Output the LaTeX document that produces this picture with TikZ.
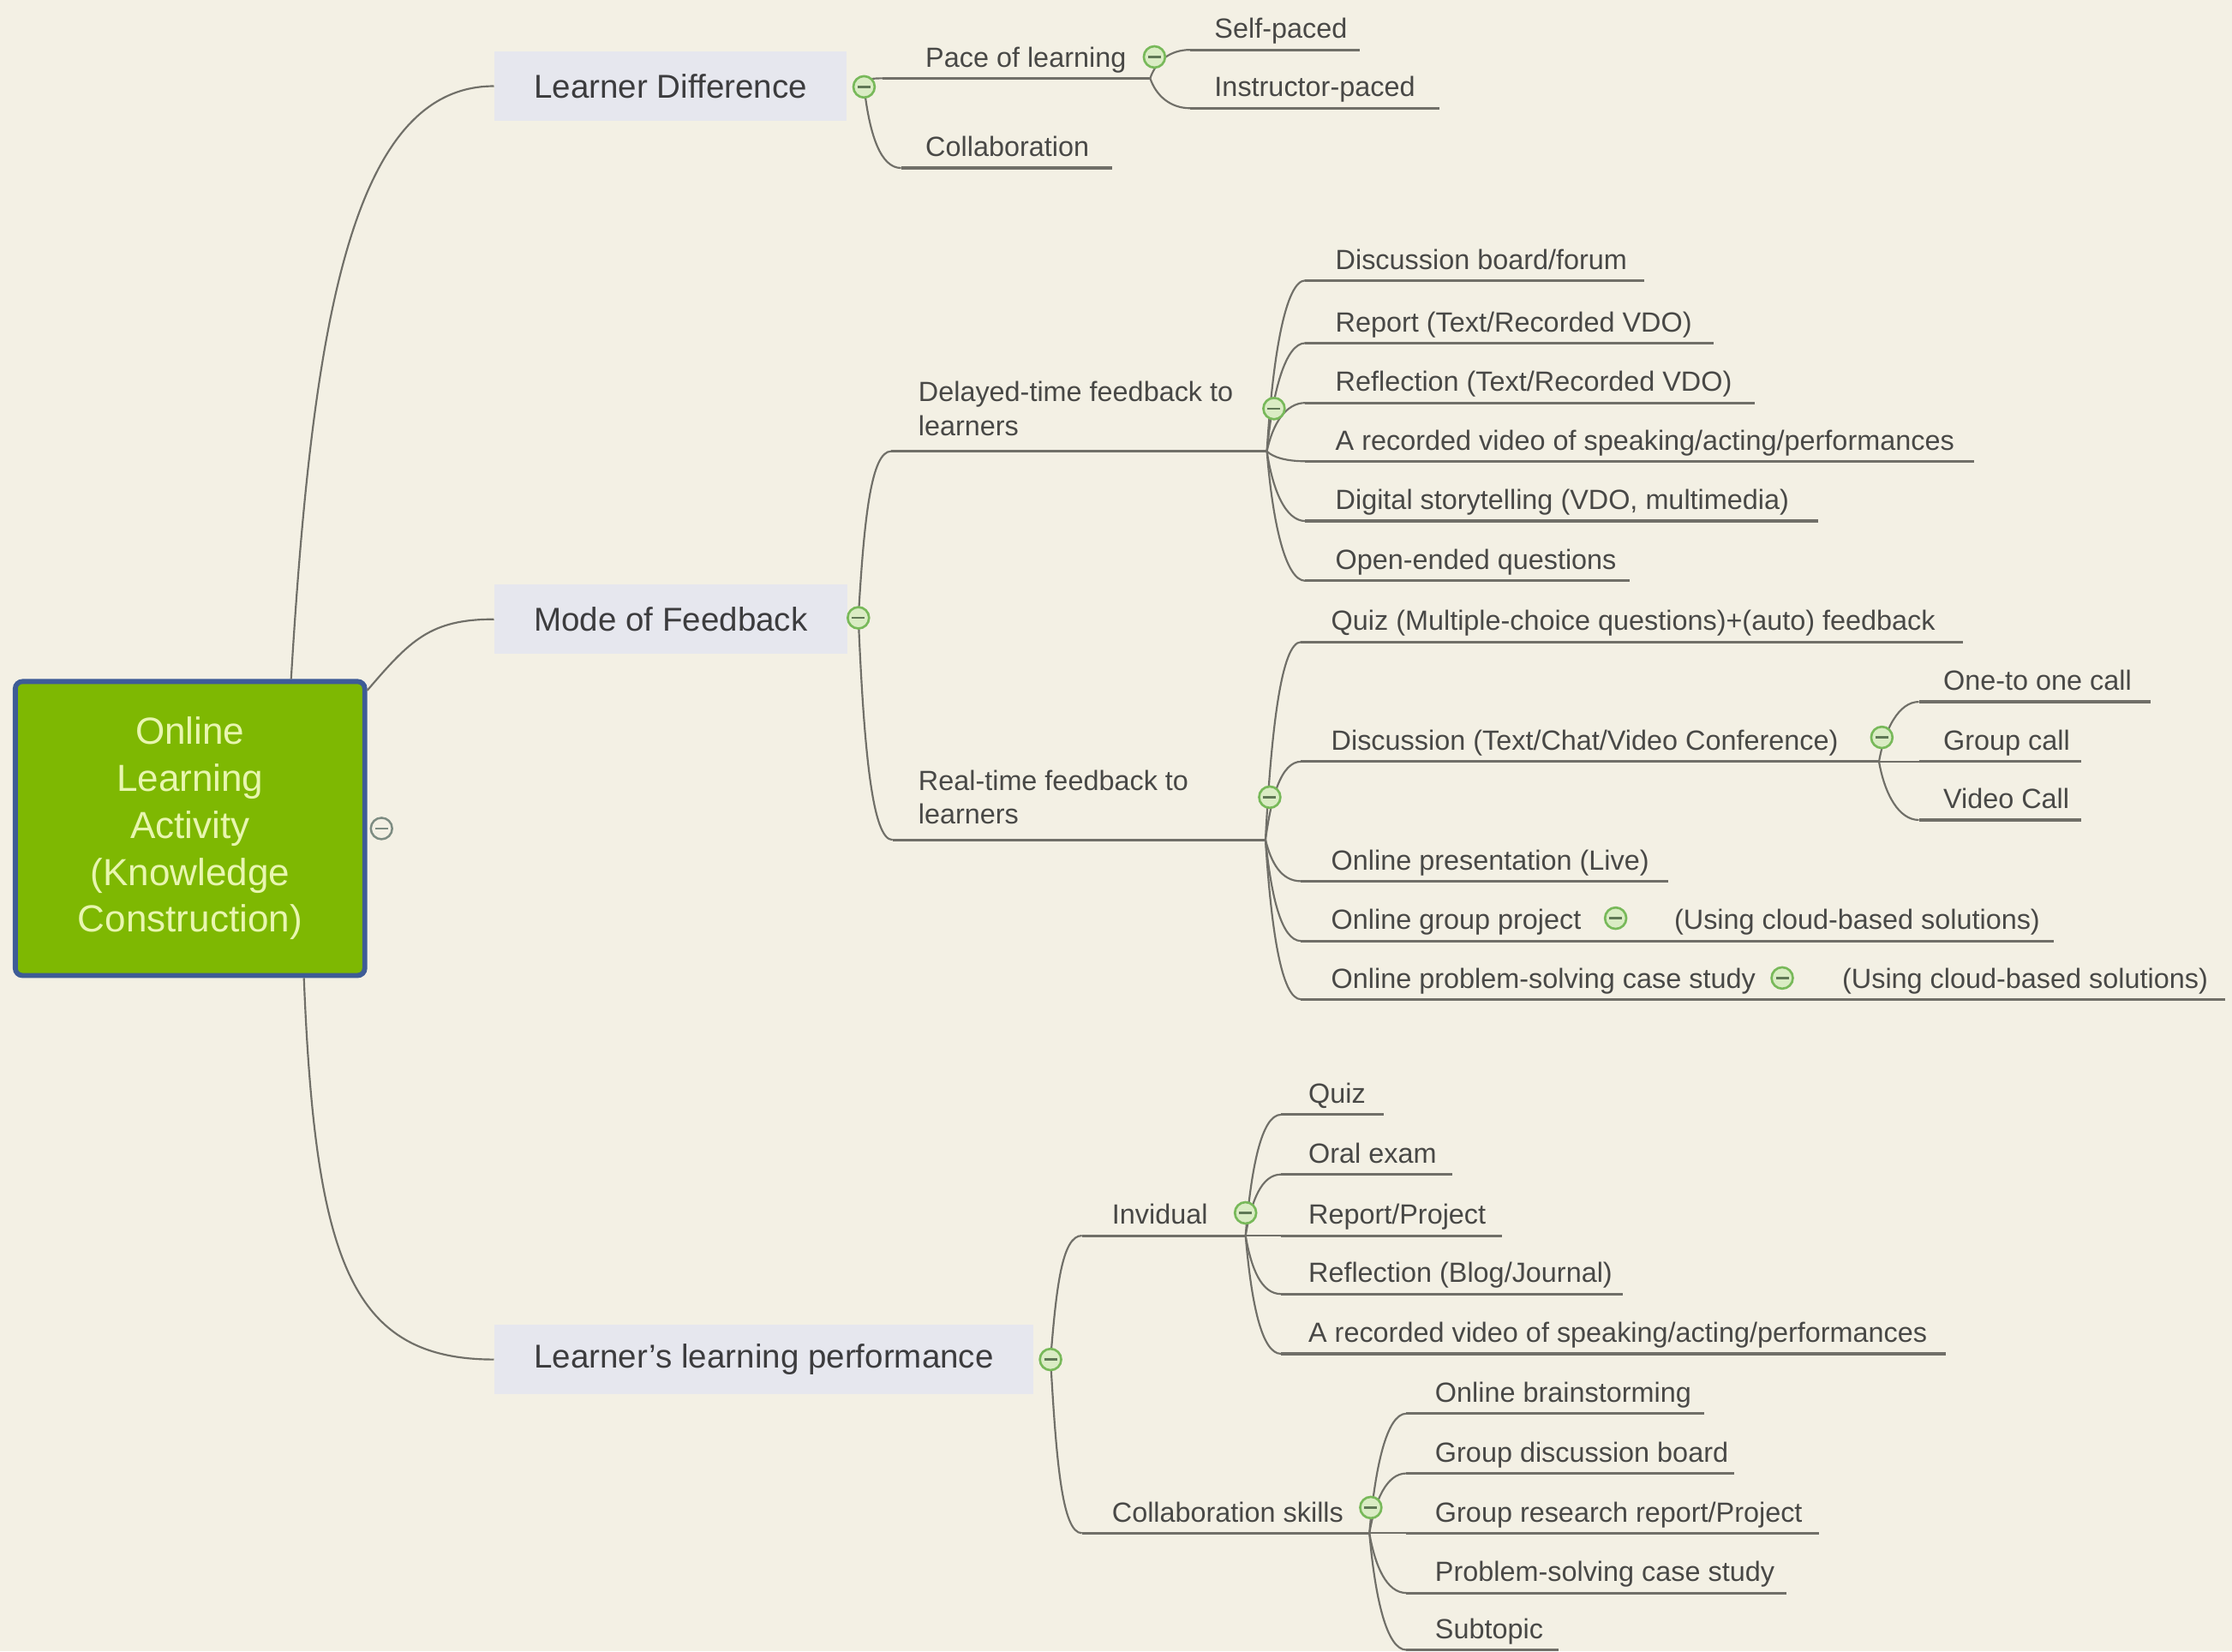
\documentclass[tikz,border=0pt]{standalone}
\usepackage{fontspec}
\setmainfont{Liberation Sans}
\definecolor{bgc}{RGB}{243,240,228}
\definecolor{linec}{RGB}{112,111,104}
\definecolor{txtc}{RGB}{72,72,70}
\definecolor{toptxt}{RGB}{60,60,62}
\definecolor{topicf}{RGB}{230,231,238}
\definecolor{rootf}{RGB}{126,184,2}
\definecolor{rootb}{RGB}{62,92,150}
\definecolor{roottxt}{RGB}{232,246,176}
\definecolor{mkline}{RGB}{120,185,90}
\definecolor{mkfill}{RGB}{218,236,196}
\definecolor{mkminus}{RGB}{95,120,85}
\definecolor{rmkline}{RGB}{125,140,130}
\newcommand\mmkid[8]{%
  \coordinate (#1s) at (#3,#5);
  \coordinate (#1e) at (#6,#5);
  \node[lbl] (#1) at (#4,{#5-8}) {#8};
  \draw[br] (#2) .. controls +(4,#7) and +(-14,0) .. (#1s);
  \draw[ul] (#1s) -- (#1e);
}
\newcommand\twoline[2]{\raisebox{3pt}{\begin{tabular}[b]{@{}l@{}}#1\\#2\end{tabular}}}
\begin{document}
\begin{tikzpicture}[x=1pt,y=-1pt,
  br/.style={draw=linec, line width=1.3pt},
  ul/.style={draw=linec, line width=1.9pt},
  lbl/.style={anchor=base west, inner sep=0pt, text=txtc, font=\fontsize{19.5}{24}\selectfont},
  topic/.style={anchor=west, fill=topicf, text=toptxt, inner xsep=28pt, inner ysep=0pt, minimum height=49pt, font=\fontsize{23.2}{28}\selectfont},
  rootbox/.style={rectangle, rounded corners=5pt, draw=rootb, line width=3.5pt, fill=rootf, text=roottxt, minimum width=245.5pt, minimum height=206.5pt, align=center, font=\fontsize{26.5}{33}\selectfont},
  cmark/.style={circle, draw=mkline, fill=mkfill, line width=1.6pt, minimum size=15pt, inner sep=0pt,
    path picture={\draw[mkminus, line width=1.4pt] ([xshift=-4.5pt]path picture bounding box.center) -- ([xshift=4.5pt]path picture bounding box.center);}},
  rmark/.style={circle, draw=rmkline, fill=bgc, line width=1.5pt, minimum size=15pt, inner sep=0pt,
    path picture={\draw[rmkline, line width=1.4pt] ([xshift=-4.5pt]path picture bounding box.center) -- ([xshift=4.5pt]path picture bounding box.center);}}
]
\useasboundingbox (0,0) rectangle (1568,1160);
\fill[bgc] (0,0) rectangle (1568,1160);

% root and main topics
\node[rootbox] (root) at (133.5,582) {Online\\Learning\\Activity\\(Knowledge\\Construction)};
\node[topic] (ld) at (347,60.5) {Learner Difference};
\node[topic] (mf) at (347,435) {Mode of Feedback};
\node[topic] (lp) at (347,955) {Learner’s learning performance};

\coordinate (mr) at (268,582);
\coordinate (mld) at (607,61);
\coordinate (mmf) at (603,434);
\coordinate (mlp) at (738,955);

\draw[br] ([xshift=71pt]root.north) .. controls +(15,-250) and +(-100,0) .. (ld.west);
\draw[br] ([yshift=-8pt]root.north east) .. controls +(30,-35) and +(-45,0) .. (mf.west);
\draw[br] ([xshift=80pt]root.south) .. controls +(8,200) and +(-100,0) .. (lp.west);

% Learner Difference
\mmkid{pace}{mld}{620}{650}{55}{808}{-4}{Pace of learning}
\mmkid{collab}{mld}{633}{650}{118}{781}{35}{Collaboration}
\mmkid{selfp}{pacee}{836}{853}{35}{955}{-12}{Self-paced}
\mmkid{instp}{pacee}{836}{853}{76}{1011}{12}{Instructor-paced}

% Mode of Feedback
\mmkid{dly}{mmf}{626}{645}{317}{890}{-70}{\twoline{Delayed-time feedback to}{learners}}
\mmkid{rt}{mmf}{627}{645}{590}{889}{95}{\twoline{Real-time feedback to}{learners}}

\mmkid{d1}{dlye}{917}{938}{197}{1155}{-66}{Discussion board/forum}
\mmkid{d2}{dlye}{917}{938}{241}{1204}{-42}{Report (Text/Recorded VDO)}
\mmkid{d3}{dlye}{917}{938}{283}{1233}{-19}{Reflection (Text/Recorded VDO)}
\mmkid{d4}{dlye}{917}{938}{324}{1387}{4}{A recorded video of speaking/acting/performances}
\mmkid{d5}{dlye}{917}{938}{366}{1277}{27}{Digital storytelling (VDO, multimedia)}
\mmkid{d6}{dlye}{917}{938}{408}{1145}{50}{Open-ended questions}

\mmkid{r1}{rte}{914}{935}{451}{1379}{-76}{Quiz (Multiple-choice questions)+(auto) feedback}
\mmkid{r2}{rte}{914}{935}{535}{1320}{-30}{Discussion (Text/Chat/Video Conference)}
\mmkid{r3}{rte}{914}{935}{619}{1172}{16}{Online presentation (Live)}
\mmkid{r4}{rte}{914}{935}{661}{1443}{39}{Online group project}
\mmkid{r5}{rte}{914}{935}{702}{1563}{62}{Online problem-solving case study}
\node[lbl] (r4x) at (1176,653) {(Using cloud-based solutions)};
\node[lbl] (r5x) at (1294,694) {(Using cloud-based solutions)};

\mmkid{c1}{r2e}{1348}{1365}{493}{1511}{-23}{One-to one call}
\mmkid{c2}{r2e}{1348}{1365}{535}{1462}{0}{Group call}
\mmkid{c3}{r2e}{1348}{1365}{576}{1462}{23}{Video Call}

% Learner's learning performance
\mmkid{ind}{mlp}{760}{781}{868}{875}{-50}{Invidual}
\mmkid{cs}{mlp}{760}{781}{1077}{962}{70}{Collaboration skills}

\mmkid{i1}{inde}{900}{919}{783}{972}{-47}{Quiz}
\mmkid{i2}{inde}{900}{919}{825}{1020}{-24}{Oral exam}
\mmkid{i3}{inde}{900}{919}{868}{1055}{0}{Report/Project}
\mmkid{i4}{inde}{900}{919}{909}{1140}{23}{Reflection (Blog/Journal)}
\mmkid{i5}{inde}{900}{919}{951}{1367}{46}{A recorded video of speaking/acting/performances}

\mmkid{k1}{cse}{988}{1008}{993}{1197}{-46}{Online brainstorming}
\mmkid{k2}{cse}{988}{1008}{1035}{1218}{-23}{Group discussion board}
\mmkid{k3}{cse}{988}{1008}{1077}{1278}{0}{Group research report/Project}
\mmkid{k4}{cse}{988}{1008}{1119}{1255}{23}{Problem-solving case study}
\mmkid{k5}{cse}{988}{1008}{1159}{1095}{45}{Subtopic}

% collapse markers
\node[rmark] (mrn) at (mr) {};
\node[cmark] (mldn) at (mld) {};
\node[cmark] (mmfn) at (mmf) {};
\node[cmark] (mlpn) at (mlp) {};
\node[cmark] (mpace) at (811,40) {};
\node[cmark] (mdly) at (895,287) {};
\node[cmark] (mrt) at (892,560) {};
\node[cmark] (mdisc) at (1322,518) {};
\node[cmark] (mr4) at (1135,645) {};
\node[cmark] (mr5) at (1252,687) {};
\node[cmark] (mind) at (875,852) {};
\node[cmark] (mcs) at (963,1059) {};
\end{tikzpicture}
\end{document}
